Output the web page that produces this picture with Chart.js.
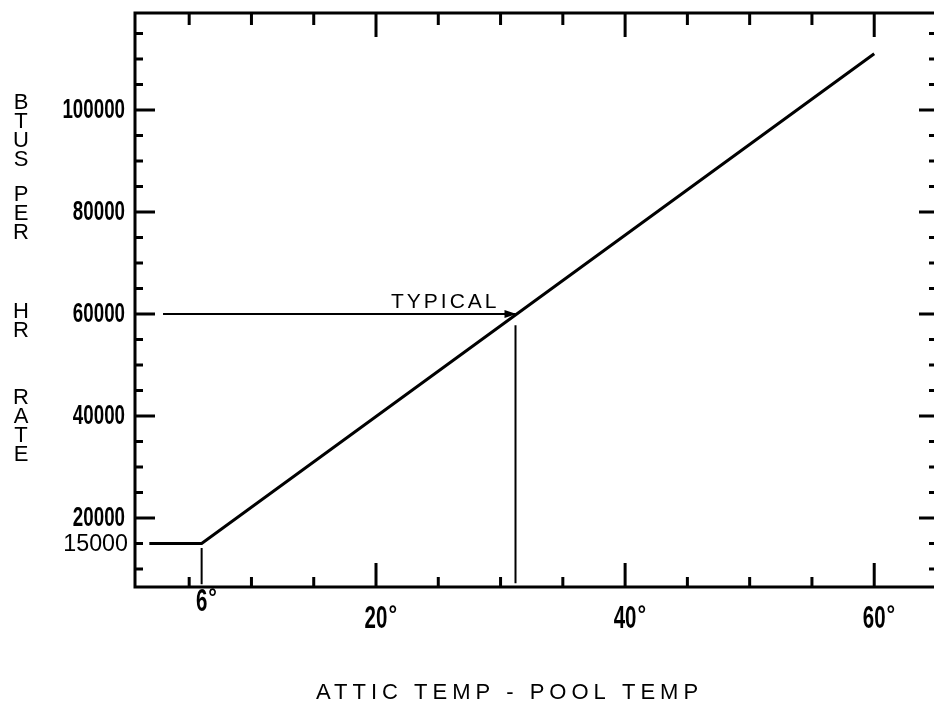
<!DOCTYPE html>
<html>
<head>
<meta charset="utf-8">
<script src="https://cdn.jsdelivr.net/npm/chart.js@4/dist/chart.umd.min.js"></script>
<style>
    body { margin: 0; background: #fff; }
    #wrap { width: 934px; height: 704px; position: relative; }
</style>
</head>
<body>
<div id="wrap"><canvas id="chart"></canvas></div>
<script>
// rate line: flat 15000 up to 6 degrees, then straight up
const rateX = [1.8, 6, 60]
const rateY = [15000, 15000, 111000]

// "typical" arrow at 60000 and the drop line under it
const typicalX = [2.9, 31.2]
const typicalY = [60000, 60000]
const typicalDropX = [31.2, 31.2]
const typicalDropY = [57800, 7200]

// short drop line at 6 degrees
const sixDropX = [6, 6]
const sixDropY = [14100, 7000]

// tick labels
const xTickLabels = [6, 20, 40, 60]
const yTickLabels = [100000, 80000, 60000, 40000, 20000]
const yExtraLabel = 15000

// tick marks
const xTickMarks = [5, 10, 15, 20, 25, 30, 35, 40, 45, 50, 55, 60]
const xMajorMarks = [20, 40, 60]
const yTickMarks = [10000, 15000, 20000, 25000, 30000, 35000, 40000, 45000, 50000, 55000,
    60000, 65000, 70000, 75000, 80000, 85000, 90000, 95000, 100000, 105000, 110000, 115000]
const yMajorMarks = [20000, 40000, 60000, 80000, 100000]

const Y_TITLE = [['BTUS', 103], ['PER', 195], ['HR', 312], ['RATE', 398]]
const X_TITLE = 'ATTIC TEMP - POOL TEMP'

const PLAIN = "'Liberation Sans', Arial, sans-serif"

function pts(xs, ys) {
    return xs.map((x, i) => ({ x: x, y: ys[i] }))
}

// squeezed text, to look like the plotter's narrow digits
function narrowText(ctx, text, x, y, font, squeeze, align) {
    ctx.save()
    ctx.font = font
    ctx.textBaseline = 'middle'
    ctx.textAlign = 'left'
    const w = ctx.measureText(text).width * squeeze
    let left = x
    if (align === 'right') left = x - w
    if (align === 'center') left = x - w / 2
    ctx.translate(left, y)
    ctx.scale(squeeze, 1)
    ctx.fillText(text, 0, 0)
    ctx.restore()
    return w
}

const framePlugin = {
    id: 'frame',
    afterDraw(chart) {
        const ctx = chart.ctx
        const a = chart.chartArea
        const xs = chart.scales.x
        const ys = chart.scales.y
        ctx.save()
        ctx.strokeStyle = '#000'
        ctx.fillStyle = '#000'
        ctx.lineCap = 'butt'

        // frame
        ctx.lineWidth = 3
        ctx.beginPath()
        ctx.moveTo(a.right, a.top)
        ctx.lineTo(a.left, a.top)
        ctx.lineTo(a.left, a.bottom)
        ctx.lineTo(a.right, a.bottom)
        ctx.stroke()

        // x ticks top and bottom
        xTickMarks.forEach(v => {
            const px = xs.getPixelForValue(v)
            const major = xMajorMarks.includes(v)
            ctx.beginPath()
            ctx.moveTo(px, a.top)
            ctx.lineTo(px, a.top + (major ? 24 : 12))
            ctx.moveTo(px, a.bottom)
            ctx.lineTo(px, a.bottom - (major ? 24 : 10))
            ctx.stroke()
        })

        // y ticks left and right
        yTickMarks.forEach(v => {
            const py = ys.getPixelForValue(v)
            const major = yMajorMarks.includes(v)
            ctx.beginPath()
            ctx.moveTo(a.left, py)
            ctx.lineTo(a.left + (major ? 20 : 8), py)
            ctx.moveTo(a.right, py)
            ctx.lineTo(a.right - (major ? 15 : 5), py)
            ctx.stroke()
        })

        // y tick labels
        yTickLabels.forEach(v => {
            narrowText(ctx, String(v), a.left - 10, ys.getPixelForValue(v), 'bold 28px ' + PLAIN, 0.67, 'right')
        })
        narrowText(ctx, String(yExtraLabel), a.left - 7, ys.getPixelForValue(yExtraLabel) + 1, '24px ' + PLAIN, 0.97, 'right')

        // x tick labels (6 sits higher than the rest)
        xTickLabels.forEach(v => {
            const px = xs.getPixelForValue(v)
            const py = v === 6 ? a.bottom + 15 : a.bottom + 32
            const w = narrowText(ctx, String(v), px, py, 'bold 32px ' + PLAIN, 0.64, 'center')
            narrowText(ctx, '°', px + w / 2 + 1, py - 4, 'bold 24px ' + PLAIN, 0.9, 'left')
        })

        // arrow head at the typical point
        const tipX = xs.getPixelForValue(typicalX[1])
        const tipY = ys.getPixelForValue(typicalY[1])
        ctx.beginPath()
        ctx.moveTo(tipX + 1, tipY)
        ctx.lineTo(tipX - 11, tipY - 4)
        ctx.lineTo(tipX - 11, tipY + 4)
        ctx.closePath()
        ctx.fill()

        // TYPICAL label
        ctx.font = '21px ' + PLAIN
        ctx.letterSpacing = '3px'
        ctx.textAlign = 'left'
        ctx.textBaseline = 'alphabetic'
        ctx.fillText('TYPICAL', 391, tipY - 6)

        // x title
        ctx.font = '22px ' + PLAIN
        ctx.letterSpacing = '5px'
        ctx.fillText(X_TITLE, 316, 699)

        // y title, one letter under the other
        ctx.letterSpacing = '0px'
        ctx.font = '22px ' + PLAIN
        ctx.textAlign = 'center'
        ctx.textBaseline = 'middle'
        Y_TITLE.forEach(([word, start]) => {
            word.split('').forEach((ch, i) => {
                ctx.fillText(ch, 21, start + i * 19)
            })
        })
        ctx.restore()
    }
}

const line = (xs, ys, w) => ({
    data: pts(xs, ys),
    showLine: true,
    borderColor: '#000',
    borderWidth: w,
    pointRadius: 0,
    fill: false
})

new Chart(document.getElementById('chart'), {
    type: 'scatter',
    data: {
        datasets: [
            line(rateX, rateY, 3),
            line(typicalX, typicalY, 2),
            line(typicalDropX, typicalDropY, 2),
            line(sixDropX, sixDropY, 2)
        ]
    },
    options: {
        responsive: true,
        maintainAspectRatio: false,
        animation: false,
        layout: { padding: { left: 135, right: 0, top: 13, bottom: 117 } },
        plugins: { legend: { display: false }, tooltip: { enabled: false } },
        scales: {
            x: { type: 'linear', display: false, min: 0.65, max: 64.8 },
            y: { type: 'linear', display: false, min: 6470, max: 119000 }
        }
    },
    plugins: [framePlugin]
})
</script>
</body>
</html>
